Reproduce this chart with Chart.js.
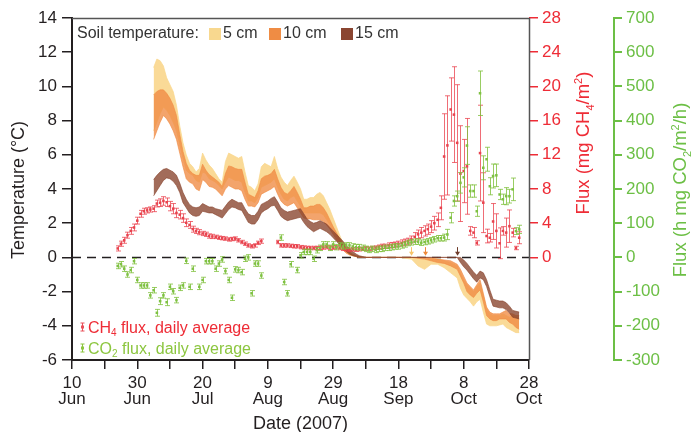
<!DOCTYPE html>
<html>
<head>
<meta charset="utf-8">
<script src="https://cdn.jsdelivr.net/npm/chart.js@4.4.1/dist/chart.umd.min.js"></script>
<style>
  html, body { margin: 0; padding: 0; background: #fff; }
</style>
</head>
<body>
<canvas id="chart" width="691" height="432"></canvas>
<script>
// days after 10 June 2007
const tempDays = [25,26,27,28,29,30,31,32,33,34,35,36,37,38,39,40,41,42,43,44,45,46,47,48,49,50,51,52,53,54,55,56,57,58,59,60,61,62,63,64,65,66,67,68,69,70,71,72,73,74,75,76,77,78,79,80,81,82,83,84,85,86,87,88,89,90,
  95,100,104,106,108,110,112,114,116,
  118,119,120,121,122,123,124,125,126,127,128,129,130,131,132,133,134,135,136,137];

// soil temperature envelopes (°C)
const t5Hi = [11.1,11.6,11.5,11.2,10.5,10.1,9.7,8.9,7.7,6.7,
  6.0,5.5,5.3,5.0,5.2,6.1,5.7,5.4,5.2,4.9,
  4.6,4.4,5.6,6.1,6.0,5.9,5.8,5.9,5.0,4.2,
  4.1,3.9,4.3,5.3,5.5,5.4,5.3,5.9,5.2,4.7,
  4.4,4.2,4.5,4.75,4.4,4.0,3.4,3.4,3.5,3.5,
  3.7,3.8,3.6,3.2,2.8,2.3,1.8,1.3,0.85,0.5,
  0.3,0.15,0.1,0.05,0,0,
  0,0,0,-0.05,-0.1,-0.05,-0.1,-0.2,-0.3,
  -0.5,-0.9,-1.3,-1.6,-1.8,-2.0,-1.7,-1.5,-2.2,-3.0,-3.3,-3.4,-3.4,-3.4,-3.3,-3.4,-3.5,-3.4,-3.5,-3.6];
const t5Lo = [7.4,7.9,8.4,8.8,8.6,8.3,7.9,7.4,6.6,5.8,
  5.1,4.9,4.8,4.5,4.4,5.0,4.9,4.6,4.5,4.4,
  4.2,4.0,4.4,4.7,4.6,4.5,4.5,4.4,3.8,3.3,
  3.3,3.2,3.5,4.1,4.2,4.3,4.4,4.6,4.1,3.7,
  3.4,3.3,3.5,3.6,3.3,3.0,2.6,2.6,2.6,2.6,
  2.6,2.6,2.5,2.2,1.9,1.6,1.25,0.9,0.55,0.3,
  0.15,0.1,0.05,0,0,0,
  0,0,-0.1,-0.5,-0.7,-0.4,-0.4,-0.6,-0.9,
  -1.2,-1.8,-2.2,-2.4,-2.6,-2.85,-2.6,-2.45,-3.2,-3.9,-4.0,-4.0,-4.0,-3.95,-3.9,-4.1,-4.2,-4.3,-4.4,-4.4];
const t10Hi = [9.5,9.7,9.8,9.8,9.6,9.3,8.9,8.3,7.2,6.2,
  5.5,5.1,4.9,4.8,4.8,5.45,5.1,4.85,4.7,4.55,
  4.4,4.15,4.9,5.35,5.3,5.2,5.15,5.15,4.4,3.7,
  3.6,3.5,3.9,4.6,4.75,4.8,4.9,5.15,4.6,4.1,
  3.8,3.7,3.9,4.15,3.8,3.4,2.9,2.9,3.0,3.0,
  3.1,3.1,2.9,2.6,2.2,1.8,1.45,1.1,0.75,0.45,
  0.3,0.2,0.1,0.05,0,0,
  0,0,0,0,0,-0.05,-0.1,-0.15,-0.2,
  -0.4,-0.7,-1.1,-1.5,-1.7,-1.9,-1.6,-1.3,-2.1,-2.9,-3.2,-3.3,-3.3,-3.3,-3.2,-3.1,-3.3,-3.3,-3.4,-3.4];
const t10Lo = [6.9,7.4,7.9,8.3,8.1,7.8,7.4,6.9,6.1,5.3,
  4.6,4.4,4.3,4.0,3.9,4.55,4.4,4.15,4.1,4.0,
  3.8,3.6,4.0,4.2,4.1,4.0,4.0,3.9,3.4,3.0,
  3.0,2.95,3.2,3.7,3.8,3.9,4.0,4.15,3.7,3.3,
  3.1,3.0,3.1,3.2,2.9,2.6,2.3,2.25,2.25,2.2,
  2.2,2.2,2.1,1.9,1.65,1.35,1.05,0.75,0.45,0.25,
  0.15,0.1,0.05,0,0,0,
  0,0,0,-0.05,-0.1,-0.2,-0.3,-0.35,-0.5,
  -0.7,-1.1,-1.5,-2.0,-2.2,-2.35,-2.1,-1.9,-2.6,-3.4,-3.6,-3.7,-3.7,-3.6,-3.6,-3.6,-3.8,-3.9,-4.1,-4.2];
const t15Hi = [4.55,4.8,5.0,5.15,5.2,5.1,5.0,4.8,4.35,3.8,
  3.4,3.1,2.95,2.9,2.95,3.15,3.05,2.95,2.95,2.85,
  2.8,2.75,3.0,3.25,3.4,3.3,3.2,3.2,2.85,2.55,
  2.45,2.45,2.7,3.1,3.2,3.3,3.45,3.55,3.25,2.9,
  2.75,2.65,2.7,2.75,2.8,2.85,2.55,2.25,2.1,2.0,
  2.05,2.15,2.05,1.95,1.75,1.55,1.35,1.15,0.95,0.7,
  0.5,0.35,0.2,0.1,0.05,0,
  0,0,0,0,0,0,0,0,0,
  0,0,-0.15,-0.35,-0.6,-0.85,-1.05,-0.8,-0.9,-1.3,-1.9,-2.45,-2.5,-2.55,-2.55,-2.65,-2.85,-3.1,-3.15,-3.2];
const t15Lo = [3.6,3.9,4.2,4.5,4.65,4.6,4.45,4.2,3.8,3.2,
  2.9,2.6,2.45,2.4,2.45,2.7,2.65,2.6,2.6,2.5,
  2.4,2.3,2.55,2.8,2.95,2.9,2.8,2.75,2.4,2.05,
  1.95,1.95,2.2,2.6,2.75,2.85,3.0,3.05,2.75,2.4,
  2.25,2.15,2.2,2.25,2.3,2.35,2.05,1.8,1.65,1.5,
  1.6,1.7,1.6,1.5,1.35,1.15,0.95,0.75,0.55,0.35,
  0.2,0.1,0.05,0,0,0,
  0,0,0,0,0,0,0,0,0,
  0,-0.3,-0.55,-0.75,-1.0,-1.25,-1.45,-1.2,-1.3,-1.7,-2.3,-2.85,-2.9,-2.95,-2.95,-3.05,-3.25,-3.5,-3.55,-3.6];

// CH4 flux, daily means and error (mg CH4/m2)
const ch4Days = [14,15,16,17,18,19,20,21,22,23,24,25,26,27,28,29,30,31,32,33,34,35,36,37,38,39,40,41,42,43,44,45,46,47,48,49,50,51,52,53,54,55,56,57,58,
  63,64,65,66,67,68,69,70,71,72,73,74,75,76,77,78,79,80,81,82,83,84,85,86,87,88,89,90,91,92,93,94,95,96,97,98,99,100,
  101,102,103,104,105,106,107,108,109,110,111,112,113,114,115,116,117,118,119,120,121,122,123,124,125,126,127,128,129,130,131,132,133,134,135,136,137];
const ch4Flux = [1.05,1.6,2.0,2.6,3.1,3.5,
  4.3,5.1,5.4,5.5,5.6,5.7,6.3,6.4,6.6,6.45,
  6.0,5.7,5.2,5.0,4.6,4.05,3.8,3.3,3.1,2.95,
  2.8,2.7,2.5,2.45,2.4,2.3,2.25,2.2,2.1,2.15,
  2.2,2.0,1.8,1.6,1.4,1.3,1.4,1.7,1.9,
  1.8,1.4,1.4,1.4,1.35,1.3,1.3,1.2,
  1.15,1.1,1.1,1.1,1.1,1.1,1.15,1.2,1.1,1.15,
  1.2,1.1,1.0,0.95,0.9,0.95,0.9,0.95,1.0,1.05,
  1.0,1.1,1.15,1.2,1.3,1.3,1.4,1.45,1.5,1.6,
  1.7,1.8,1.9,2.1,2.4,2.7,2.9,3.1,3.3,3.6,
  4.0,4.4,5.8,11.8,13.1,17.3,16.7,13.4,9.8,10.1,
  10.65,3.1,2.9,1.7,12.2,6.4,2.5,2.3,4.2,3.1,
  1.65,3.1,2.9,3.65,2.9,1.1,2.3];
const ch4Err = [0.3,0.3,0.35,0.35,0.4,0.4,
  0.4,0.4,0.35,0.3,0.3,0.35,0.4,0.45,0.5,0.5,
  0.55,0.6,0.55,0.5,0.5,0.45,0.4,0.35,0.3,0.3,
  0.25,0.25,0.25,0.25,0.2,0.2,0.2,0.2,0.2,0.2,
  0.2,0.2,0.2,0.2,0.2,0.2,0.2,0.2,0.25,
  0.2,0.2,0.2,0.2,0.2,0.2,0.2,0.2,
  0.2,0.2,0.2,0.2,0.2,0.2,0.2,0.2,0.2,0.2,
  0.2,0.2,0.2,0.2,0.2,0.2,0.2,0.2,0.2,0.2,
  0.2,0.2,0.2,0.25,0.25,0.25,0.3,0.3,0.3,0.3,
  0.35,0.35,0.35,0.4,0.5,0.5,0.6,0.6,0.6,0.7,
  0.8,0.8,1.4,5.0,5.8,3.7,5.6,6.8,5.6,3.7,
  5.6,0.5,0.6,0.25,5.6,3.5,0.8,0.5,2.1,2.0,
  1.8,0.5,1.7,1.9,0.5,0.2,0.7];

// CO2 flux, daily means and error (mg CO2/m2/h)
const co2Days = [14,15,16,17,18,19,20,21,22,23,24,25,26,27,28,29,30,31,32,33,34,35,36,37,39,40,41,42,43,44,45,46,47,48,49,50,51,52,53,54,55,56,57,58,
  64,65,66,67,69,70,71,72,73,74,75,76,77,78,79,80,81,82,83,84,85,86,87,88,89,90,91,92,93,94,95,96,97,98,99,100,
  101,102,103,104,105,106,107,108,109,110,111,112,113,114,115,116,117,118,119,120,121,122,123,124,125,126,127,128,129,130,131,132,133,134,135,136,137];
const co2Flux = [-25,-20,-33,-50,-37,-11,-66,-82,-82,-82,-111,-96,-162,-128,-111,-131,-86,-99,-125,-89,-82,-10,-86,-33,
  -86,-66,-11,-11,-11,-33,-18,-6,-40,-66,-118,-35,-37,-43,-4,0,-105,-18,-18,-53,
  58,-72,-105,-20,-37,6,16,16,16,-4,21,28,38,38,28,38,30,35,32,35,35,32,30,30,28,25,22,25,22,25,25,28,28,30,32,32,
  35,38,42,44,46,46,43,45,47,50,53,56,56,58,67,116,165,179,218,234,327,194,194,135,480,262,287,208,238,240,184,170,179,179,199,77,82];
const co2Err = [8,8,8,8,8,8,8,8,8,8,8,8,10,10,8,10,8,8,8,8,8,8,8,8,
  8,8,8,8,8,8,8,8,8,8,8,8,8,8,8,8,8,8,8,8,
  8,8,8,8,8,8,8,8,8,8,8,8,8,8,8,8,8,8,8,8,8,8,8,8,8,8,8,8,8,8,8,8,8,8,8,8,
  8,8,8,8,8,8,8,8,8,8,8,8,8,10,15,15,15,15,30,28,55,18,18,15,65,35,35,25,35,33,15,15,25,20,33,10,12];

// x axis labels every 20 days
const tickDays = [0,20,40,60,80,100,120,140];
const tickDayLabels = ['10','30','20','9','29','18','8','28'];
const tickMonthLabels = ['Jun','Jun','Jul','Aug','Aug','Sep','Oct','Oct'];

// days where each depth starts to freeze (arrows on the zero line)
const freezeDays = [104, 108, 118];

const FONT = "'Liberation Sans', Arial, Helvetica, sans-serif";
const RED = '#ee2c36';
const GREEN = '#6cbf45';
const DARK = '#231f20';

const band5 = 'rgba(249,214,140,0.9)';
const band10 = 'rgba(240,138,66,0.78)';
const band15 = 'rgba(136,66,44,0.78)';

function pts(days, vals) {
  return days.map((d, i) => ({ x: d, y: vals[i] }));
}

function bandLine(vals, color, fill, order) {
  return {
    type: 'line',
    data: pts(tempDays, vals),
    yAxisID: 'y',
    borderColor: color,
    borderWidth: 0.8,
    backgroundColor: color,
    pointRadius: 0,
    fill: fill,
    tension: 0,
    order: order
  };
}

// width of a run list (normal text plus sub/superscripts)
function runsWidth(ctx, runs, size) {
  const small = Math.round(size * 0.62);
  let total = 0;
  runs.forEach(r => {
    ctx.font = (r.sub || r.sup ? small : size) + 'px ' + FONT;
    r.w = ctx.measureText(r.t).width;
    total += r.w;
  });
  return total;
}

// draw text with sub/superscript pieces, centred on (0,0)
function drawRuns(ctx, runs, size, color) {
  const small = Math.round(size * 0.62);
  const total = runsWidth(ctx, runs, size);
  let x = -total / 2;
  ctx.fillStyle = color;
  ctx.textBaseline = 'alphabetic';
  ctx.textAlign = 'left';
  runs.forEach(r => {
    ctx.font = (r.sub || r.sup ? small : size) + 'px ' + FONT;
    const dy = r.sub ? size * 0.22 : (r.sup ? -size * 0.42 : 0);
    ctx.fillText(r.t, x, size * 0.35 + dy);
    x += r.w;
  });
}

const errorBars = {
  id: 'errorBars',
  beforeDatasetDraw(chart, args) {
    const ds = chart.data.datasets[args.index];
    if (!ds.errors) return;
    const ctx = chart.ctx;
    const xs = chart.scales.x;
    const ys = chart.scales[ds.yAxisID];
    ctx.save();
    ctx.strokeStyle = ds.errorColor;
    ctx.lineWidth = 1;
    ds.data.forEach((p, i) => {
      const e = ds.errors[i];
      const px = Math.round(xs.getPixelForValue(p.x)) + 0.5;
      const top = ys.getPixelForValue(p.y + e);
      const bot = ys.getPixelForValue(p.y - e);
      ctx.beginPath();
      ctx.moveTo(px, top); ctx.lineTo(px, bot);
      ctx.moveTo(px - 2.5, top); ctx.lineTo(px + 2.5, top);
      ctx.moveTo(px - 2.5, bot); ctx.lineTo(px + 2.5, bot);
      ctx.stroke();
    });
    ctx.restore();
  }
};

const decorations = {
  id: 'decorations',
  beforeDatasetsDraw(chart) {
    const { ctx, chartArea, scales } = chart;
    const y0 = Math.round(scales.y.getPixelForValue(0)) + 0.5;
    ctx.save();
    ctx.strokeStyle = DARK;
    ctx.lineWidth = 1.3;
    ctx.setLineDash([9, 6]);
    ctx.beginPath();
    ctx.moveTo(chartArea.left, y0);
    ctx.lineTo(chartArea.right, y0);
    ctx.stroke();
    ctx.restore();
  },
  afterDatasetsDraw(chart) {
    const { ctx, scales } = chart;
    const arrowColors = ['#f6c46a', '#ee8838', '#6e3b2a'];
    ctx.save();
    freezeDays.forEach((d, i) => {
      const x = Math.round(scales.x.getPixelForValue(d)) + 0.5;
      const yTop = scales.y.getPixelForValue(0.6);
      const yTip = scales.y.getPixelForValue(0.1);
      ctx.strokeStyle = arrowColors[i];
      ctx.fillStyle = arrowColors[i];
      ctx.lineWidth = 1;
      ctx.beginPath();
      ctx.moveTo(x, yTop); ctx.lineTo(x, yTip - 3);
      ctx.stroke();
      ctx.beginPath();
      ctx.moveTo(x - 2.5, yTip - 4); ctx.lineTo(x + 2.5, yTip - 4); ctx.lineTo(x, yTip);
      ctx.closePath(); ctx.fill();
    });
    ctx.restore();
  },
  afterDraw(chart) {
    const { ctx, chartArea } = chart;
    const { left, right, top, bottom } = chartArea;
    ctx.save();

    // frame top and right
    ctx.strokeStyle = '#555';
    ctx.lineWidth = 1.5;
    ctx.beginPath();
    ctx.moveTo(left, top + 0.5);
    ctx.lineTo(right + 0.5, top + 0.5);
    ctx.lineTo(right + 0.5, bottom);
    ctx.stroke();

    // soil temperature legend
    ctx.font = '16px ' + FONT;
    ctx.textBaseline = 'middle';
    ctx.textAlign = 'left';
    ctx.fillStyle = '#333';
    ctx.fillText('Soil temperature:', left + 5, top + 16);
    const items = [['5 cm', '#f8d88f', 209], ['10 cm', '#ef8c44', 269], ['15 cm', '#8a4531', 341]];
    items.forEach(([label, color, x]) => {
      ctx.fillStyle = color;
      ctx.fillRect(x, top + 10, 12, 12);
      ctx.fillStyle = '#333';
      ctx.fillText(label, x + 14, top + 16);
    });

    // flux legend, bottom left
    const rows = [
      { y: bottom - 33, color: RED, bar: '#e8505a', runs: [{ t: 'CH' }, { t: '4', sub: true }, { t: ' flux, daily average' }] },
      { y: bottom - 12, color: '#8cc63f', bar: '#8cc63f', runs: [{ t: 'CO' }, { t: '2', sub: true }, { t: ' flux, daily average' }] }
    ];
    rows.forEach(r => {
      const bx = left + 10.5;
      ctx.strokeStyle = r.bar;
      ctx.lineWidth = 1;
      ctx.beginPath();
      ctx.moveTo(bx, r.y - 4); ctx.lineTo(bx, r.y + 4);
      ctx.moveTo(bx - 2, r.y - 4); ctx.lineTo(bx + 2, r.y - 4);
      ctx.moveTo(bx - 2, r.y + 4); ctx.lineTo(bx + 2, r.y + 4);
      ctx.stroke();
      ctx.fillStyle = r.bar;
      ctx.fillRect(bx - 1.5, r.y - 1.5, 3, 3);
      ctx.save();
      const w = runsWidth(ctx, r.runs, 16);
      ctx.translate(left + 16 + w / 2, r.y);
      drawRuns(ctx, r.runs, 16, r.color);
      ctx.restore();
    });

    // axis titles
    ctx.save();
    ctx.translate(18, 190);
    ctx.rotate(-Math.PI / 2);
    drawRuns(ctx, [{ t: 'Temperature (°C)' }], 18, DARK);
    ctx.restore();

    ctx.save();
    ctx.translate(583, 143);
    ctx.rotate(-Math.PI / 2);
    drawRuns(ctx, [{ t: 'Flux (mg CH' }, { t: '4', sub: true }, { t: '/m' }, { t: '2', sup: true }, { t: ')' }], 18.5, RED);
    ctx.restore();

    ctx.save();
    ctx.translate(680, 190);
    ctx.rotate(-Math.PI / 2);
    drawRuns(ctx, [{ t: 'Flux (h mg CO' }, { t: '2', sub: true }, { t: '/m' }, { t: '2', sup: true }, { t: '/h)' }], 18.5, GREEN);
    ctx.restore();

    ctx.save();
    ctx.translate((left + right) / 2, 423);
    drawRuns(ctx, [{ t: 'Date (2007)' }], 18, DARK);
    ctx.restore();

    ctx.restore();
  }
};

const ctx = document.getElementById('chart').getContext('2d');
new Chart(ctx, {
  data: {
    datasets: [
      bandLine(t5Lo, band5, false, 30),
      bandLine(t5Hi, band5, '-1', 30),
      bandLine(t10Lo, band10, false, 20),
      bandLine(t10Hi, band10, '-1', 20),
      bandLine(t15Lo, band15, false, 10),
      bandLine(t15Hi, band15, '-1', 10),
      {
        type: 'scatter',
        data: pts(ch4Days, ch4Flux),
        errors: ch4Err,
        errorColor: 'rgba(234,60,72,0.75)',
        yAxisID: 'yCH4',
        pointStyle: 'rect',
        pointRadius: 1.8,
        borderWidth: 0,
        backgroundColor: '#e8434e',
        order: 1
      },
      {
        type: 'scatter',
        data: pts(co2Days, co2Flux),
        errors: co2Err,
        errorColor: 'rgba(128,192,60,0.8)',
        yAxisID: 'yCO2',
        pointStyle: 'rect',
        pointRadius: 1.8,
        borderWidth: 0,
        backgroundColor: '#7ec142',
        order: 0
      }
    ]
  },
  options: {
    responsive: false,
    animation: false,
    layout: { padding: { top: 18, left: 0, right: 0, bottom: 0 } },
    plugins: { legend: { display: false }, tooltip: { enabled: false } },
    scales: {
      x: {
        type: 'linear',
        min: 0,
        max: 140,
        afterFit: s => { s.height = 72; },
        border: { display: true, color: DARK, width: 2 },
        grid: { drawOnChartArea: false, drawTicks: true, tickLength: 9, color: DARK, lineWidth: 1.5 },
        ticks: {
          stepSize: 10,
          autoSkip: false,
          maxRotation: 0,
          padding: 7,
          color: DARK,
          font: { family: FONT, size: 17, lineHeight: 0.9 },
          callback: v => {
            const i = tickDays.indexOf(v);
            return i >= 0 ? [tickDayLabels[i], tickMonthLabels[i]] : '';
          }
        }
      },
      y: {
        position: 'left',
        min: -6,
        max: 14,
        afterFit: s => { s.width = 72; },
        border: { display: true, color: DARK, width: 2 },
        grid: { drawOnChartArea: false, drawTicks: true, tickLength: 10, color: DARK, lineWidth: 1.5 },
        ticks: { stepSize: 2, padding: 5, color: DARK, font: { family: FONT, size: 17 } }
      },
      yCH4: {
        position: 'right',
        min: -12,
        max: 28,
        afterFit: s => { s.width = 85; },
        border: { display: false },
        grid: {
          drawOnChartArea: false, drawTicks: true, tickLength: 9, lineWidth: 1.5,
          color: c => (c.tick && c.tick.value >= 0 ? RED : 'rgba(0,0,0,0)')
        },
        ticks: {
          stepSize: 4, padding: 4, color: RED, font: { family: FONT, size: 17 },
          callback: v => (v >= 0 ? v : '')
        }
      },
      yCO2: {
        position: 'right',
        min: -300,
        max: 700,
        afterFit: s => { s.width = 77; },
        border: { display: true, color: GREEN, width: 2 },
        grid: { drawOnChartArea: false, drawTicks: true, tickLength: 8, color: GREEN, lineWidth: 2 },
        ticks: { stepSize: 100, padding: 4, color: GREEN, font: { family: FONT, size: 17 } }
      }
    }
  },
  plugins: [errorBars, decorations]
});
</script>
</body>
</html>
